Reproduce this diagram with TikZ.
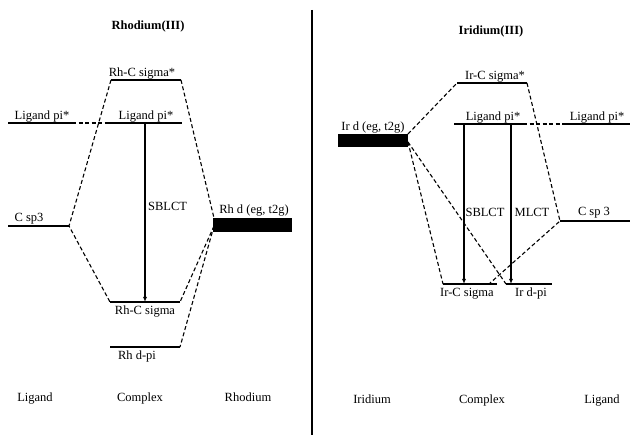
\documentclass[tikz,border=0pt]{standalone}
\usepackage{fontspec}
\setmainfont{Liberation Serif}
\usetikzlibrary{arrows.meta}
\begin{document}
\begin{tikzpicture}[x=1pt,y=-1pt,
  level/.style={line width=1.5pt},
  conn/.style={dash pattern=on 4pt off 2.5pt, line width=1.1pt},
  lab/.style={font=\fontsize{12.5}{14}\selectfont, inner sep=0pt, anchor=base},
  ttl/.style={font=\bfseries\fontsize{12.5}{14}\selectfont, inner sep=0pt, anchor=base},
  ct/.style={line width=1.1pt, -{Latex[length=5pt,width=4pt]}},
  dblock/.style={fill=black, draw=none},
]
\useasboundingbox (0,0) rectangle (630,435);
% divider
\draw[line width=1.8pt] (312,10) coordinate (divT) -- (312,435) coordinate (divB);

% ================= Rhodium =================
\node[ttl] (rhT) at (148,30) {Rhodium(III)};
% levels
\coordinate (rsx-l) at (111,80);  \coordinate (rsx-r) at (181,80);
\coordinate (lpl-l) at (8,123);   \coordinate (lpl-r) at (72,123);
\coordinate (lpc-l) at (109,123); \coordinate (lpc-r) at (182,123);
\coordinate (csp-l) at (8,226);   \coordinate (csp-r) at (69,226);
\coordinate (rs-l) at (110,302);  \coordinate (rs-r) at (180,302);
\coordinate (rdp-l) at (110,347); \coordinate (rdp-r) at (180,347);
\draw[level] (rsx-l) -- (rsx-r);
\draw[level] (lpl-l) -- (lpl-r);
\draw[level] (lpc-l) -- (lpc-r);
\draw[level] (csp-l) -- (csp-r);
\draw[level] (rs-l) -- (rs-r);
\draw[level] (rdp-l) -- (rdp-r);
\path[dblock] (213,218) rectangle (292,232);
\coordinate (rd-t) at (214,218); \coordinate (rd-m) at (214,226);
% labels
\node[lab] (rsxL) at (142,77) {Rh-C sigma*};
\node[lab] (lplL) at (42,120) {Ligand pi*};
\node[lab] (lpcL) at (146,120) {Ligand pi*};
\node[lab] (cspL) at (29,222) {C sp3};
\node[lab] (rdL) at (254,214) {Rh d (eg, t2g)};
\node[lab] (rsL) at (145,315) {Rh-C sigma};
\node[lab] (rdpL) at (137,360) {Rh d-pi};
\node[lab, anchor=base west] (sbl1) at (148,211) {SBLCT};
% connectors
\draw[conn] (lpl-r) -- (lpc-l);
\draw[conn] (rsx-l) -- (csp-r) -- (rs-l);
\draw[conn] (rsx-r) -- (rd-t);
\draw[conn] (rd-m) -- (rs-r);
\draw[conn] (rd-m) -- (rdp-r);
\coordinate (a1s) at (145,123); \coordinate (a1e) at (145,302);
\draw[ct] (a1s) -- (a1e);
% bottom
\node[lab] (b1) at (35,402) {Ligand};
\node[lab] (b2) at (140,402) {Complex};
\node[lab] (b3) at (248,402) {Rhodium};

% ================= Iridium =================
\node[ttl] (irT) at (491,35) {Iridium(III)};
\coordinate (isx-l) at (457,83);  \coordinate (isx-r) at (527,83);
\coordinate (ilc-l) at (454,124); \coordinate (ilc-r) at (523,124);
\coordinate (ilr-l) at (562,124); \coordinate (ilr-r) at (630,124);
\coordinate (is-l) at (443,284);  \coordinate (is-r) at (497,284);
\coordinate (is-x) at (489,284);
\coordinate (idp-l) at (506,284); \coordinate (idp-r) at (552,284);
\coordinate (icsp-l) at (560,221); \coordinate (icsp-r) at (630,221);
\draw[level] (isx-l) -- (isx-r);
\draw[level] (ilc-l) -- (ilc-r);
\draw[level] (ilr-l) -- (ilr-r);
\draw[level] (is-l) -- (is-r);
\draw[level] (idp-l) -- (idp-r);
\draw[level] (icsp-l) -- (icsp-r);
\path[dblock] (338,134) rectangle (408,147);
\coordinate (id-t) at (408,134); \coordinate (id-m) at (408,142);
% labels
\node[lab] (isxL) at (495,80) {Ir-C sigma*};
\node[lab] (ilcL) at (493,121) {Ligand pi*};
\node[lab] (ilrL) at (597,121) {Ligand pi*};
\node[lab] (idL) at (373,131) {Ir d (eg, t2g)};
\node[lab] (isL) at (467,297) {Ir-C sigma};
\node[lab] (idpL) at (531,297) {Ir d-pi};
\node[lab] (icspL) at (594,216) {C sp 3};
\node[lab] (sbl2) at (485,217) {SBLCT};
\node[lab] (mlct) at (532,217) {MLCT};
% connectors
\draw[conn] (ilc-r) -- (ilr-l);
\draw[conn] (id-t) -- (isx-l);
\draw[conn] (id-m) -- (is-l);
\draw[conn] (id-m) -- (idp-l);
\draw[conn] (isx-r) -- (icsp-l) -- (is-x);
\coordinate (a2s) at (464,124); \coordinate (a2e) at (464,284);
\coordinate (a3s) at (511,124); \coordinate (a3e) at (511,284);
\draw[ct] (a2s) -- (a2e);
\draw[ct] (a3s) -- (a3e);
% bottom
\node[lab] (b4) at (372,404) {Iridium};
\node[lab] (b5) at (482,404) {Complex};
\node[lab] (b6) at (602,404) {Ligand};
\end{tikzpicture}
\end{document}
